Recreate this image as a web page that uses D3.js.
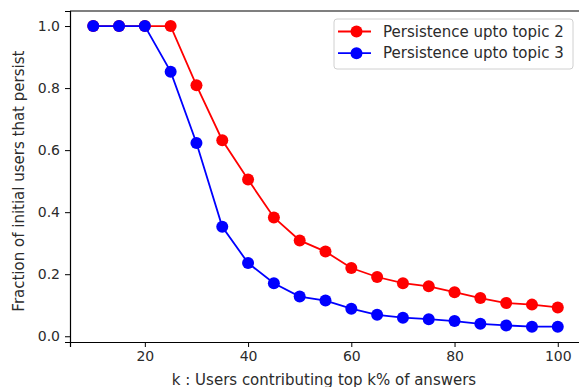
<!DOCTYPE html>
<html>
<head>
<meta charset="utf-8">
<script src="https://cdnjs.cloudflare.com/ajax/libs/d3/7.8.5/d3.min.js"></script>
<style>
  body { margin: 0; background: #fff; }
  svg text { font-family: "DejaVu Sans", sans-serif; fill: #2b2b2b; }
</style>
</head>
<body>
<div class="chart"></div>
<script>
var width = 579, height = 387;

var ks = [10, 15, 20, 25, 30, 35, 40, 45, 50, 55, 60, 65, 70, 75, 80, 85, 90, 95, 100];
var topic2 = [1.0, 1.0, 1.0, 1.0, 0.809, 0.632, 0.505, 0.383, 0.309, 0.273, 0.220, 0.191, 0.171, 0.161, 0.142, 0.123, 0.107, 0.102, 0.093];
var topic3 = [1.0, 1.0, 1.0, 0.853, 0.623, 0.353, 0.236, 0.171, 0.128, 0.115, 0.089, 0.069, 0.060, 0.055, 0.049, 0.040, 0.035, 0.031, 0.031];
var series_names = ["Persistence upto topic 2", "Persistence upto topic 3"];
var series_colors = ["#ff0000", "#0000ff"];
var x_ticks = [20, 40, 60, 80, 100];
var y_ticks = [0.0, 0.2, 0.4, 0.6, 0.8, 1.0];

var margin = {left: 70, top: 11, right: 581, bottom: 342};

var svg = d3.select(".chart").append("svg")
    .attr("width", width)
    .attr("height", height);

var x = d3.scaleLinear()
    .domain([5.5, 104.5])
    .range([margin.left, margin.right]);

var y = d3.scaleLinear()
    .domain([-0.0185, 1.0485])
    .range([margin.bottom, margin.top]);

// series
var series = [topic2, topic3];
var line = d3.line()
    .x(function(d, i){ return x(ks[i]); })
    .y(function(d){ return y(d); });

series.forEach(function(vals, s){
  var g = svg.append("g");
  g.append("path")
      .datum(vals)
      .attr("d", line)
      .attr("fill", "none")
      .attr("stroke", series_colors[s])
      .attr("stroke-width", 1.8);
  g.selectAll("circle")
      .data(vals)
    .enter().append("circle")
      .attr("cx", function(d, i){ return x(ks[i]); })
      .attr("cy", function(d){ return y(d); })
      .attr("r", 6)
      .attr("fill", series_colors[s]);
});

// axes
var xAxis = svg.append("g")
    .attr("transform", "translate(0," + margin.bottom + ")")
    .call(d3.axisBottom(x).tickValues(x_ticks).tickSize(5).tickPadding(4).tickFormat(d3.format("d")));

var yAxis = svg.append("g")
    .attr("transform", "translate(" + margin.left + ",0)")
    .call(d3.axisLeft(y).tickValues(y_ticks).tickSize(5).tickPadding(5).tickFormat(d3.format(".1f")));

[xAxis, yAxis].forEach(function(a){
  a.select(".domain").attr("stroke", "#000").attr("stroke-width", 1.2);
  a.selectAll(".tick line").attr("stroke", "#000").attr("stroke-width", 1);
  a.selectAll(".tick text").style("font-size", "14px").attr("fill", "#2b2b2b");
});

// top spine
svg.append("line")
    .attr("x1", margin.left).attr("x2", margin.right)
    .attr("y1", margin.top).attr("y2", margin.top)
    .attr("stroke", "#000").attr("stroke-width", 1.2);

// labels
svg.append("text")
    .attr("x", 324)
    .attr("y", 385)
    .style("text-anchor", "middle")
    .style("font-size", "15px")
    .text("k : Users contributing top k% of answers");

svg.append("text")
    .attr("transform", "translate(24," + y(0.5) + ") rotate(-90)")
    .style("text-anchor", "middle")
    .style("font-size", "15px")
    .text("Fraction of initial users that persist");

// legend
var legend = svg.append("g")
    .attr("transform", "translate(334,19)");

legend.append("rect")
    .attr("width", 239)
    .attr("height", 50)
    .attr("rx", 3)
    .attr("fill", "#fff")
    .attr("fill-opacity", 0.8)
    .attr("stroke", "#d0d0d0");

series_names.forEach(function(name, i){
  var row = legend.append("g")
      .attr("transform", "translate(0," + (12.5 + i * 21.7) + ")");
  row.append("line")
      .attr("x1", 4).attr("x2", 37)
      .attr("stroke", series_colors[i])
      .attr("stroke-width", 1.8);
  row.append("circle")
      .attr("cx", 22.5)
      .attr("r", 6)
      .attr("fill", series_colors[i]);
  row.append("text")
      .attr("x", 49)
      .attr("dy", "0.35em")
      .style("font-size", "15px")
      .text(name);
});
</script>
</body>
</html>
